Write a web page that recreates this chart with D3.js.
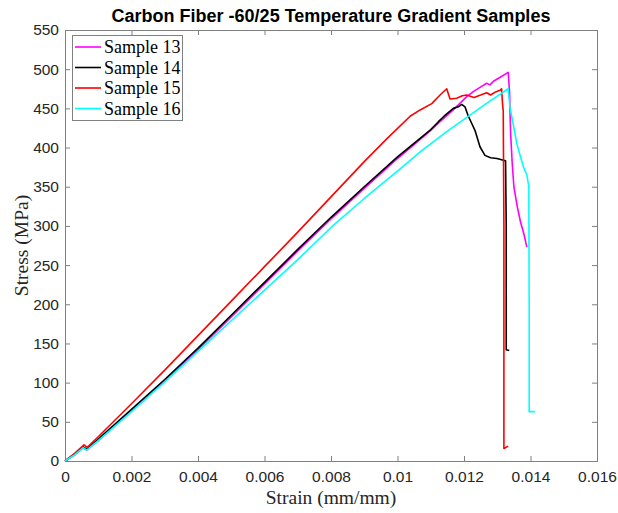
<!DOCTYPE html>
<html>
<head>
<meta charset="utf-8">
<script src="https://cdn.jsdelivr.net/npm/d3@7"></script>
<style>
  html, body { margin: 0; padding: 0; background: #fff; }
  svg { display: block; }
</style>
</head>
<body>
<svg id="chart" width="618" height="513"></svg>
<script>
// ---- Data (strain mm/mm, stress MPa) ----
const seriesNames = ["Sample 13", "Sample 14", "Sample 15", "Sample 16"];
const seriesColors = ["#ff00ff", "#000000", "#ff0000", "#00ffff"];

const strain13 = [0, 0.0003, 0.00055, 0.00065, 0.001, 0.002, 0.003, 0.004, 0.005, 0.006, 0.007, 0.008, 0.009, 0.010, 0.011, 0.01128, 0.0117, 0.01208, 0.0123, 0.01253, 0.01268, 0.01278, 0.0129, 0.0131, 0.01333, 0.01337, 0.0134, 0.01345, 0.0135, 0.0136, 0.0137, 0.0138, 0.01389];
const stress13 = [0, 8, 17, 14, 26, 64, 102, 142, 184, 226, 268, 309, 348, 386, 422, 433, 449, 465, 472, 478, 482, 480, 485, 490, 496, 470, 420, 380, 350, 325, 305, 290, 273];

const strain14 = [0, 0.0003, 0.00055, 0.00065, 0.001, 0.002, 0.003, 0.004, 0.005, 0.006, 0.007, 0.008, 0.009, 0.010, 0.011, 0.01123, 0.0114, 0.01168, 0.01183, 0.01193, 0.01203, 0.01213, 0.01223, 0.01233, 0.01248, 0.01263, 0.0128, 0.01299, 0.01316, 0.01325, 0.01327, 0.01327, 0.01336];
const stress14 = [0, 9, 18, 15, 28, 66, 104, 144, 186, 228, 270, 311, 350, 388, 423, 433, 440, 450, 452, 455, 452, 440, 431, 422, 401, 390, 387, 386, 384, 383, 300, 142, 141];

const strain15 = [0, 0.0003, 0.00057, 0.00067, 0.001, 0.002, 0.003, 0.004, 0.005, 0.006, 0.007, 0.008, 0.009, 0.0097, 0.01038, 0.01068, 0.01103, 0.01128, 0.01148, 0.01158, 0.01178, 0.01195, 0.01208, 0.0123, 0.0125, 0.01268, 0.0128, 0.01295, 0.01308, 0.01313, 0.01316, 0.01318, 0.0132, 0.0132, 0.01333];
const stress15 = [0, 10, 20.5, 17.5, 31, 73, 116, 160, 204, 248, 292, 337, 382, 412, 440, 448, 456, 467, 475, 462, 463, 466, 467, 464, 467, 470, 467, 471, 473, 475, 455, 447, 300, 16, 19];

const strain16 = [0, 0.0003, 0.00055, 0.00065, 0.001, 0.002, 0.003, 0.004, 0.005, 0.006, 0.007, 0.008, 0.009, 0.010, 0.0107, 0.0115, 0.012, 0.0127, 0.01333, 0.01338, 0.0135, 0.01359, 0.0137, 0.01379, 0.01389, 0.01395, 0.01396, 0.01396, 0.01414];
const stress16 = [0, 8, 17, 14, 26, 63, 101, 140, 179, 218, 257, 298, 335, 370, 395, 421, 436, 457, 475, 452, 425, 405, 388, 375, 365, 350, 200, 63, 63];

const xTicks = [0, 0.002, 0.004, 0.006, 0.008, 0.01, 0.012, 0.014, 0.016];
const yTicks = [0, 50, 100, 150, 200, 250, 300, 350, 400, 450, 500, 550];

const titleText = "Carbon Fiber -60/25 Temperature Gradient Samples";
const xLabel = "Strain (mm/mm)";
const yLabel = "Stress (MPa)";

// ---- Layout ----
const L = 65, R = 597, T = 30, B = 461;
const svg = d3.select("#chart");
const x = d3.scaleLinear().domain([0, 0.016]).range([L, R]);
const y = d3.scaleLinear().domain([0, 550]).range([B, T]);

const axisColor = "#808080";
const textColor = "#262626";
const tickFont = "'Liberation Sans', Arial, sans-serif";
const serif = "'Liberation Serif', 'Times New Roman', serif";

function styleAxis(g) {
  g.select(".domain").remove();
  g.selectAll(".tick line").attr("stroke", axisColor);
  g.selectAll(".tick text").attr("fill", textColor).style("font-family", tickFont).style("font-size", "15.5px");
}

const fmt = d => d3.format("")(+d.toPrecision(6));

svg.append("g").attr("transform", `translate(0,${B})`)
  .call(d3.axisBottom(x).tickValues(xTicks).tickFormat(fmt).tickSizeInner(-5).tickSizeOuter(0).tickPadding(10))
  .call(styleAxis);
svg.append("g").attr("transform", `translate(0,${T})`)
  .call(d3.axisTop(x).tickValues(xTicks).tickFormat("").tickSizeInner(-5).tickSizeOuter(0))
  .call(styleAxis);
svg.append("g").attr("transform", `translate(${L},0)`)
  .call(d3.axisLeft(y).tickValues(yTicks).tickFormat(d3.format("d")).tickSizeInner(-5).tickSizeOuter(0).tickPadding(6))
  .call(styleAxis);
svg.append("g").attr("transform", `translate(${R},0)`)
  .call(d3.axisRight(y).tickValues(yTicks).tickFormat("").tickSizeInner(-5).tickSizeOuter(0))
  .call(styleAxis);

// box
svg.append("rect").attr("x", L).attr("y", T).attr("width", R - L).attr("height", B - T)
  .attr("fill", "none").attr("stroke", axisColor).attr("stroke-width", 1).attr("shape-rendering", "crispEdges");

// ---- Lines ----
const allStrain = [strain13, strain14, strain15, strain16];
const allStress = [stress13, stress14, stress15, stress16];
const line = d3.line().x(d => x(d[0])).y(d => y(d[1]));
const plot = svg.append("g");
allStrain.forEach((sx, i) => {
  const pts = sx.map((v, j) => [v, allStress[i][j]]);
  plot.append("path").datum(pts).attr("d", line)
    .attr("fill", "none").attr("stroke", seriesColors[i]).attr("stroke-width", 1.6)
    .attr("stroke-linejoin", "round");
});

// ---- Legend ----
const lg = svg.append("g");
lg.append("rect").attr("x", 72).attr("y", 35).attr("width", 110).attr("height", 85)
  .attr("fill", "#fff").attr("stroke", axisColor).attr("stroke-width", 1).attr("shape-rendering", "crispEdges");
seriesNames.forEach((n, i) => {
  const cy = 47 + i * 20.5;
  lg.append("line").attr("x1", 75).attr("x2", 101).attr("y1", cy).attr("y2", cy)
    .attr("stroke", seriesColors[i]).attr("stroke-width", 1.6);
  lg.append("text").attr("x", 104).attr("y", cy + 6).text(n)
    .style("font-family", serif).style("font-size", "18px").attr("fill", "#000");
});

// ---- Titles ----
svg.append("text").attr("x", (L + R) / 2).attr("y", 22).attr("text-anchor", "middle")
  .style("font-family", tickFont).style("font-weight", "bold").style("font-size", "18px")
  .attr("fill", "#000").text(titleText);
svg.append("text").attr("x", (L + R) / 2).attr("y", 504).attr("text-anchor", "middle")
  .style("font-family", serif).style("font-size", "19.5px").attr("fill", textColor).text(xLabel);
svg.append("text").attr("transform", `translate(28,${(T + B) / 2}) rotate(-90)`).attr("text-anchor", "middle")
  .style("font-family", serif).style("font-size", "19.5px").attr("fill", textColor).text(yLabel);
</script>
</body>
</html>
